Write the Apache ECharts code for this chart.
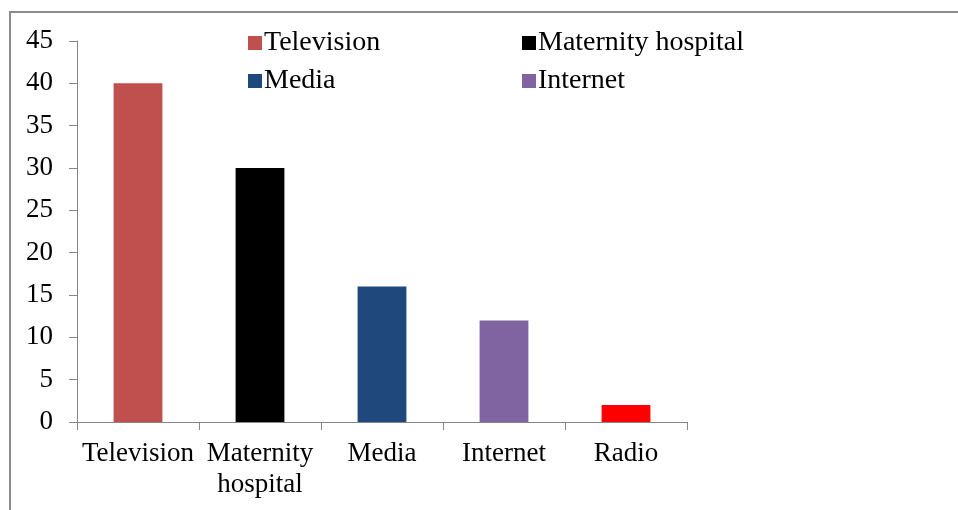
<!DOCTYPE html>
<html>
<head>
<meta charset="utf-8">
<script src="https://cdn.jsdelivr.net/npm/echarts@6/dist/echarts.min.js"></script>
<style>html,body{margin:0;padding:0;background:#fff}#c{width:958px;height:510px}</style>
</head>
<body>
<div id="c"></div>
<script>
var categories = ['Television', 'Maternity\nhospital', 'Media', 'Internet', 'Radio'];
var seriesNames = ['Television', 'Maternity hospital', 'Media', 'Internet', 'Radio'];
var values = [40, 30, 16, 12, 2];
var colors = ['#C0504D', '#000000', '#1F497D', '#8064A2', '#FF0000'];
var yTicks = {min: 0, max: 45, interval: 5};

var font = '"Times New Roman", "Liberation Serif", serif';
var series = seriesNames.map(function (name, i) {
  var d = values.map(function (v, j) { return j === i ? v : null; });
  return {
    name: name, type: 'bar', stack: 'all', data: d, barWidth: '40%',
    itemStyle: {color: colors[i]}
  };
});

var legendCommon = {
  orient: 'vertical', top: 29, padding: 0,
  icon: 'rect', itemWidth: 14, itemHeight: 14, itemGap: 10,
  textStyle: {fontFamily: font, fontSize: 28, color: '#000', lineHeight: 28, padding: [0, 0, 0, -3]}
};

var chart = echarts.init(document.getElementById('c'));
chart.setOption({
  animation: false,
  backgroundColor: '#fff',
  grid: {left: 77, right: 271, top: 41, bottom: 88},
  legend: [
    Object.assign({data: [seriesNames[0], seriesNames[2]], left: 248}, legendCommon),
    Object.assign({data: [seriesNames[1], seriesNames[3]], left: 522}, legendCommon)
  ],
  xAxis: {
    type: 'category', data: categories,
    axisLine: {lineStyle: {color: '#868686', width: 1}},
    axisTick: {show: true, length: 8, lineStyle: {color: '#868686'}},
    axisLabel: {fontFamily: font, fontSize: 27, color: '#000', lineHeight: 31, margin: 16, interval: 0}
  },
  yAxis: {
    type: 'value', min: yTicks.min, max: yTicks.max, interval: yTicks.interval,
    axisLine: {show: true, lineStyle: {color: '#868686', width: 1}},
    axisTick: {show: true, length: 8, lineStyle: {color: '#868686'}},
    splitLine: {show: false},
    axisLabel: {fontFamily: font, fontSize: 27, color: '#000', margin: 24}
  },
  graphic: [
    {type: 'line', shape: {x1: 9, y1: 12, x2: 958, y2: 12}, style: {stroke: '#8a8a8a', lineWidth: 2}},
    {type: 'line', shape: {x1: 10, y1: 12, x2: 10, y2: 510}, style: {stroke: '#8a8a8a', lineWidth: 2}}
  ],
  series: series
});
</script>
</body>
</html>
